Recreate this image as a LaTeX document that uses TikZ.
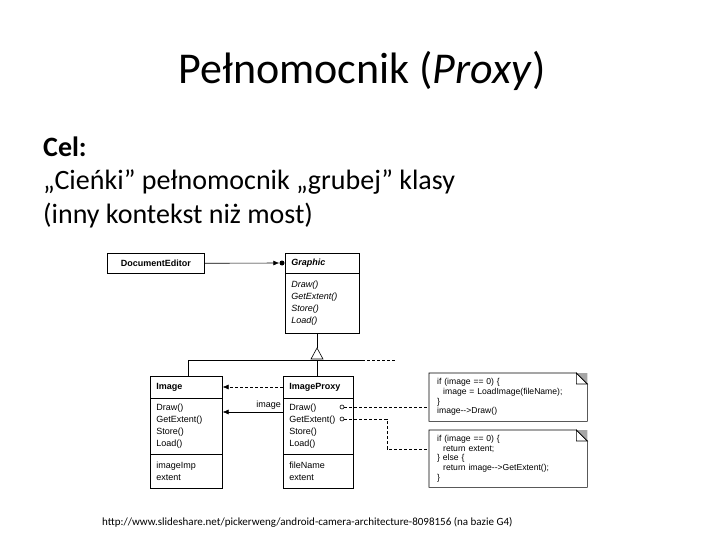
\documentclass[tikz,border=0pt]{standalone}
\usepackage{fontspec}
\setmainfont{Carlito}
\newfontfamily\arial{Liberation Sans}
\usetikzlibrary{arrows.meta}
\begin{document}
\begin{tikzpicture}[x=1pt,y=-1pt,
  uml/.style={draw, line width=0.6pt, anchor=north west, inner xsep=6pt, inner ysep=0pt, align=left,
     font=\arial\fontsize{9}{12}\selectfont},
  note/.style={anchor=north west, inner xsep=8pt, inner ysep=0pt, align=left,
     font=\arial\fontsize{8.6}{9.7}\selectfont},
  conn/.style={line width=0.6pt},
  dconn/.style={line width=0.6pt, dashed, dash pattern=on 3pt off 2pt},
  tip/.style={-{Latex[length=6pt,width=5pt]}},
  port/.style={circle, draw, line width=0.6pt, fill=white, inner sep=0pt, minimum size=4pt},
  txt/.style={anchor=base west, inner sep=0pt, font=\fontsize{28}{33}\selectfont}
]
\useasboundingbox (0,0) rectangle (720,540);
\fill[white] (0,0) rectangle (720,540);

% title and text
\node[anchor=base, inner sep=0pt, font=\fontsize{44}{52}\selectfont] (title) at (362,84) {Pełnomocnik (\textit{Proxy})};
\node[txt] (cel) at (43,157) {\textbf{Cel:}};
\node[txt] (l1) at (43,190) {„Cieńki” pełnomocnik „grubej” klasy};
\node[txt] (l2) at (43,223) {(inny kontekst niż most)};

% DocumentEditor
\node[uml, minimum width=97pt, minimum height=20pt, text width=85pt, align=center, font=\arial\bfseries\fontsize{9}{12}\selectfont] (de) at (107,253) {DocumentEditor};

% Graphic
\node[uml, minimum width=74pt, minimum height=20pt, text width=62pt, font=\arial\bfseries\itshape\fontsize{9}{12}\selectfont] (gh) at (285,253) {Graphic};
\node[uml, minimum width=74pt, minimum height=60pt, text width=62pt, font=\arial\itshape\fontsize{9}{12}\selectfont] (gm) at (285,273) {Draw()\\GetExtent()\\Store()\\Load()};

% Image
\node[uml, minimum width=72pt, minimum height=22pt, text width=60pt, font=\arial\bfseries\fontsize{9}{12}\selectfont] (ih) at (150,376) {Image};
\node[uml, minimum width=72pt, minimum height=56pt, text width=60pt] (im) at (150,398) {Draw()\\GetExtent()\\Store()\\Load()};
\node[uml, minimum width=72pt, minimum height=34pt, text width=60pt] (ia) at (150,454) {imageImp\\extent};

% ImageProxy
\node[uml, minimum width=70pt, minimum height=22pt, text width=58pt, font=\arial\bfseries\fontsize{9}{12}\selectfont] (ph) at (283,376) {ImageProxy};
\node[uml, minimum width=70pt, minimum height=56pt, text width=58pt] (pm) at (283,398) {Draw()\\GetExtent()\\Store()\\Load()};
\node[uml, minimum width=70pt, minimum height=34pt, text width=58pt] (pa) at (283,454) {fileName\\extent};

% notes
\node[note, minimum width=158pt, minimum height=48pt, text width=142pt] (n1) at (429,373)
  {if (image == 0) \{\\\hspace*{6pt}image = LoadImage(fileName);\\\}\\image-->Draw()};
\node[note, minimum width=158pt, minimum height=57pt, text width=142pt] (n2) at (429,430)
  {if (image == 0) \{\\\hspace*{6pt}return extent;\\\} else \{\\\hspace*{6pt}return image-->GetExtent();\\\}};
\foreach \n in {n1,n2}{
  \draw[line width=0.6pt] (\n.north west) -- ([xshift=-11pt]\n.north east) -- ([yshift=-11pt]\n.north east) -- (\n.south east) -- (\n.south west) -- cycle;
  \fill[gray!70] ([xshift=-11pt]\n.north east) -- (\n.north east) -- ([yshift=-11pt]\n.north east) -- cycle;
  \draw[line width=0.6pt] ([xshift=-11pt]\n.north east) -- ([yshift=-11pt]\n.north east) -- ([xshift=-11pt,yshift=-11pt]\n.north east) -- cycle;
}

% DocumentEditor -> Graphic
\node[circle, fill=black, inner sep=0pt, minimum size=5pt] (dot) at (282,263) {};
\draw[conn, -{Latex[length=6pt,width=5pt]}] (de.east) -- (dot.west);

% inheritance
\coordinate (apex) at (317,348);
\coordinate (junc) at (317,360);
\coordinate (hl) at (188,360);
\coordinate (hr) at (362,360);
\coordinate (hd) at (395,360);
\draw[conn] (gm.south -| apex) -- (apex);
\draw[conn, fill=white] (apex) -- (311,359) -- (323,359) -- cycle;
\draw[conn] (ih.north -| hl) -- (hl) -- (hr);
\draw[dconn] (hr) -- (hd);
\draw[conn] (junc) -- (ph.north -| junc);

% ImageProxy -> Image
\draw[dconn, tip] (ph.west |- 0,387) -- (ih.east |- 0,387);
\draw[conn, tip] (pm.west |- 0,412) -- (im.east |- 0,412) ;
\node[anchor=base east, inner sep=0pt, font=\arial\fontsize{9}{10}\selectfont] (lbl) at (281,407) {image};

% ports to notes
\node[port] (p1) at (342,407) {};
\node[port] (p2) at (342,419) {};
\draw[dconn] (p1.east) -- (n1.west |- p1);
\coordinate (bend) at (387,419);
\draw[dconn] (p2.east) -- (bend) -- (bend |- 0,449) -- (n2.west |- 0,449);

% footer
\node[anchor=base west, inner sep=0pt, font=\fontsize{11}{13}\selectfont] (url) at (102,525)
  {http://www.slideshare.net/pickerweng/android-camera-architecture-8098156 (na bazie G4)};
\end{tikzpicture}
\end{document}
